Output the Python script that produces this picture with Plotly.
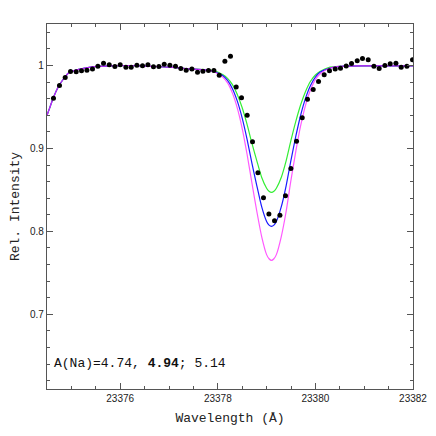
import plotly.graph_objs as go

# observed spectrum (black dots)
obs_wl = [23374.633, 23374.756, 23374.873, 23374.982, 23375.098, 23375.207, 23375.318, 23375.432,
          23375.543, 23375.658, 23375.775, 23375.891, 23376.000, 23376.117, 23376.225, 23376.342,
          23376.457, 23376.568, 23376.682, 23376.793, 23376.902, 23377.018, 23377.133, 23377.242,
          23377.352, 23377.469, 23377.584, 23377.695, 23377.809, 23377.920, 23378.029, 23378.145,
          23378.260, 23378.377, 23378.486, 23378.602, 23378.711, 23378.822, 23378.936, 23379.047,
          23379.162, 23379.273, 23379.387, 23379.498, 23379.613, 23379.730, 23379.838, 23379.955,
          23380.064, 23380.180, 23380.289, 23380.406, 23380.514, 23380.631, 23380.740, 23380.857,
          23380.965, 23381.082, 23381.199, 23381.307, 23381.424, 23381.533, 23381.650, 23381.758,
          23381.875, 23381.990]
obs_flux = [0.9606, 0.9759, 0.9855, 0.9928, 0.9923, 0.9935, 0.9943, 0.9959,
            0.9992, 1.0028, 1.0008, 0.9988, 1.0008, 0.9980, 0.9980, 1.0004,
            0.9996, 1.0008, 0.9984, 0.9988, 1.0016, 1.0004, 0.9992, 0.9964,
            0.9943, 0.9959, 0.9919, 0.9931, 0.9939, 0.9939, 0.9883, 1.0052,
            1.0112, 0.9742, 0.9610, 0.9400, 0.9080, 0.8706, 0.8405, 0.8210,
            0.8128, 0.8196, 0.8429, 0.8759, 0.9088, 0.9369, 0.9594, 0.9711,
            0.9807, 0.9887, 0.9935, 0.9959, 0.9967, 0.9995, 1.0024, 1.0056,
            1.0084, 1.0068, 0.9992, 0.9964, 1.0000, 1.0020, 1.0028, 0.9980,
            0.9992, 1.0068]

# synthetic spectra: shared continuum on both sides
cont_left_wl = [23374.50, 23374.55, 23374.63, 23374.73, 23374.84, 23374.94, 23375.04, 23375.25,
                23375.52, 23375.80, 23376.20, 23376.60, 23377.00, 23377.40, 23377.70]
cont_left = [0.940, 0.948, 0.961, 0.974, 0.984, 0.991, 0.9935, 0.9964,
             0.9988, 0.9995, 1.000, 0.999, 0.998, 0.996, 0.995]
cont_right_wl = [23380.50, 23381.00, 23381.50, 23382.00]
cont_right = [0.999, 0.9995, 0.9995, 0.9995]

# Na line core
line_wl = [23377.9, 23378.1, 23378.2, 23378.3, 23378.4, 23378.5, 23378.6, 23378.7, 23378.8,
           23378.9, 23379.0, 23379.05, 23379.1, 23379.15, 23379.2, 23379.3, 23379.4, 23379.5,
           23379.6, 23379.7, 23379.8, 23379.9, 23380.0, 23380.1, 23380.3]
line_474 = [0.994, 0.989, 0.9845, 0.977, 0.965, 0.949, 0.929, 0.906, 0.885,
            0.865, 0.852, 0.8483, 0.847, 0.8483, 0.852, 0.865, 0.885, 0.910,
            0.933, 0.953, 0.969, 0.981, 0.9885, 0.993, 0.998]
line_494 = [0.993, 0.988, 0.982, 0.972, 0.957, 0.9366, 0.911, 0.882, 0.855,
            0.8295, 0.812, 0.8075, 0.806, 0.8075, 0.812, 0.8295, 0.855, 0.886,
            0.915, 0.9406, 0.961, 0.976, 0.986, 0.992, 0.997]
line_514 = [0.993, 0.986, 0.979, 0.9667, 0.9486, 0.924, 0.893, 0.858, 0.824,
            0.7935, 0.772, 0.767, 0.765, 0.767, 0.772, 0.7935, 0.824, 0.862,
            0.897, 0.928, 0.9526, 0.9707, 0.983, 0.990, 0.997]

FONT_MONO = 'Liberation Mono, Courier New, monospace'
FONT_SANS = 'Liberation Sans, Arial, sans-serif'


def synth(core):
    return cont_left_wl + line_wl + cont_right_wl, cont_left + core + cont_right


fig = go.Figure()
for core, color, op in [(line_474, '#33ee33', 1.0), (line_494, '#1a1aff', 1.0), (line_514, '#ff22ff', 0.75)]:
    x, y = synth(core)
    fig.add_trace(go.Scatter(x=x, y=y, mode='lines', opacity=op,
                             line=dict(color=color, width=1.2, shape='spline', smoothing=0.6)))

fig.add_trace(go.Scatter(x=obs_wl, y=obs_flux, mode='markers',
                         marker=dict(color='black', size=5)))

axis_common = dict(showgrid=False, zeroline=False, showline=True, linecolor='#555555', linewidth=1.3,
                   mirror='allticks', ticks='inside', ticklen=6, tickcolor='#555555', tickwidth=1,
                   automargin=False,
                   tickfont=dict(family=FONT_SANS, size=10, color='#222222'))

# page body adds 8px offset, so margins are shifted to compensate
fig.update_layout(
    width=436, height=436,
    margin=dict(l=39, r=31, t=16, b=55, autoexpand=False),
    plot_bgcolor='white', paper_bgcolor='white',
    showlegend=False,
    xaxis=dict(range=[23374.5, 23382], dtick=2, tick0=23376, tickformat='d',
               minor=dict(dtick=0.5, ticks='inside', ticklen=3, tickcolor='#555555'),
               title=dict(text='Wavelength (Å)', standoff=9,
                          font=dict(family=FONT_MONO, size=13, color='#222222')),
               **axis_common),
    yaxis=dict(range=[0.61, 1.05], dtick=0.1, tick0=0.7,
               minor=dict(dtick=0.02, ticks='inside', ticklen=3, tickcolor='#555555'),
               title=dict(text='Rel. Intensity', standoff=10,
                          font=dict(family=FONT_MONO, size=13, color='#222222')),
               **axis_common),
)

fig.add_annotation(x=0.013, y=0.07, xref='paper', yref='paper', xanchor='left', yanchor='middle',
                   showarrow=False, text='A(Na)=4.74, <b>4.94</b>; 5.14',
                   font=dict(family=FONT_MONO, size=13, color='#111111'))

fig.write_html("out.html")
